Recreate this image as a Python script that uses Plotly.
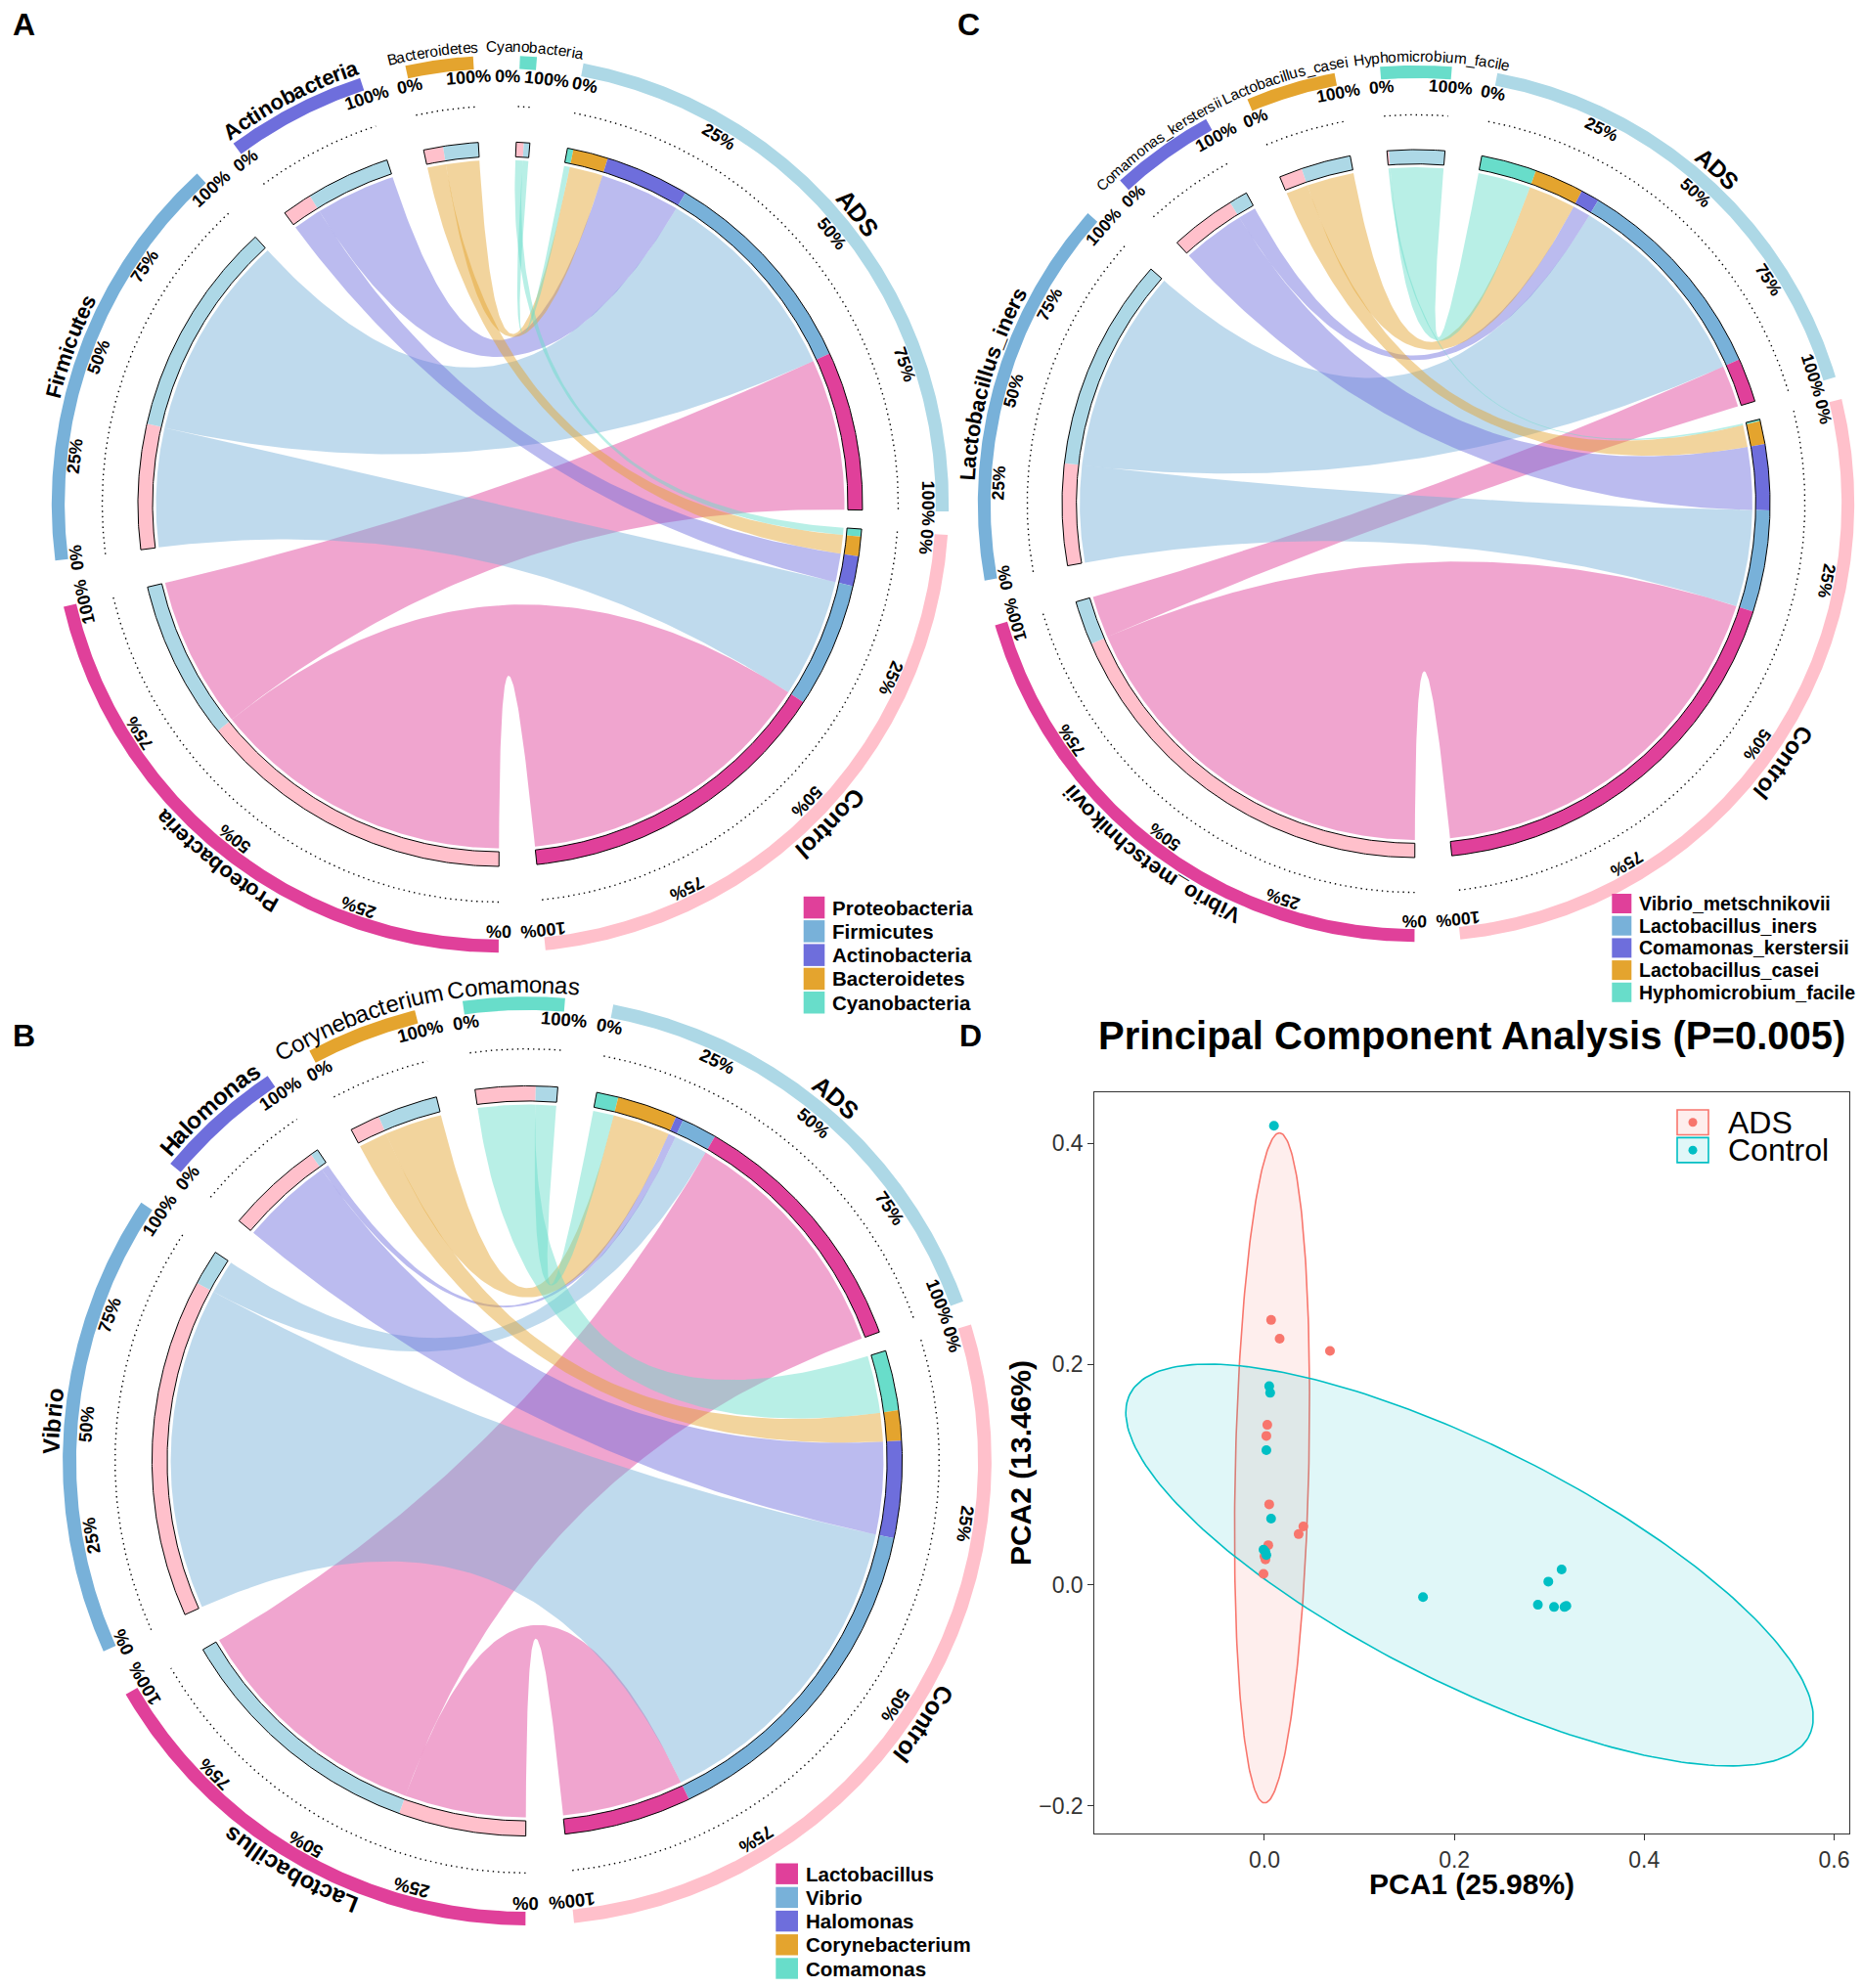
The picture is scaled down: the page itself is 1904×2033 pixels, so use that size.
import numpy as np
import plotly.graph_objects as go

FIG_W, FIG_H = 1904, 2033
FONT = "Liberation Sans, Arial, Helvetica, sans-serif"

# ----------------------------- data -----------------------------
groups = ["ADS", "Control"]

# Panel A (phylum)
taxa_A = ["Proteobacteria", "Firmicutes", "Actinobacteria", "Bacteroidetes", "Cyanobacteria"]
ads_A = [31.8, 43.2, 16.8, 7.0, 1.2]
control_A = [63.6, 25.0, 6.0, 3.9, 1.5]

# Panel B (genus)
taxa_B = ["Lactobacillus", "Vibrio", "Halomonas", "Corynebacterium", "Comamonas"]
ads_B = [24.8, 3.4, 0.75, 5.8, 2.1]
control_B = [12.3, 32.7, 9.35, 2.9, 5.8]

# Panel C (species)
taxa_C = ["Vibrio_metschnikovii", "Lactobacillus_iners", "Comamonas_kerstersii",
          "Lactobacillus_casei", "Hyphomicrobium_facile"]
ads_C = [4.5, 21.7, 1.9, 5.05, 5.65]
control_C = [41.25, 10.35, 6.7, 2.35, 0.2]

ticks_full = [0, 25, 50, 75, 100]
ticks_short = [0, 100]

# Panel D (PCA)
pca_title = "Principal Component Analysis (P=0.005)"
pc1_label = "PCA1 (25.98%)"
pc2_label = "PCA2 (13.46%)"
ads_pc1 = [0.007, 0.016, 0.069, 0.003, 0.002, 0.005, 0.041, 0.036, 0.004, 0.001, -0.001, 0.000]
ads_pc2 = [0.240, 0.223, 0.212, 0.145, 0.135, 0.073, 0.053, 0.046, 0.036, 0.023, 0.010, 0.026]
ctrl_pc1 = [0.010, 0.005, 0.006, 0.002, 0.007, -0.001, 0.002, 0.001, 0.167, 0.288, 0.299, 0.313, 0.305, 0.316, 0.318]
ctrl_pc2 = [0.416, 0.180, 0.174, 0.122, 0.060, 0.032, 0.027, 0.030, -0.011, -0.018, 0.003, 0.014, -0.020, -0.020, -0.019]
# ellipse: centre x, centre y, semi-major, semi-minor, angle (deg)
ads_ellipse = [0.008, 0.106, 0.3036, 0.0387, 88.5]
ctrl_ellipse = [0.216, 0.018, 0.390, 0.110, -22.8]
x_ticks = [0.0, 0.2, 0.4, 0.6]
y_ticks = [-0.2, 0.0, 0.2, 0.4]

# ----------------------------- styles -----------------------------
group_colors = ["#ADD8E6", "#FFC0CB"]
taxon_colors = ["#E0409A", "#78B1D9", "#6E6EDC", "#E4A42E", "#68DDCA"]
LINK_ALPHA = 0.47
ADS_COL, CTRL_COL = "#F8766D", "#00BFC4"

W_REG = {' ': 278, '%': 889, '_': 556, '.': 278, '(': 333, ')': 333, '=': 584,
         'A': 667, 'B': 667, 'C': 722, 'D': 722, 'E': 667, 'F': 611, 'G': 778, 'H': 722, 'I': 278,
         'J': 500, 'K': 667, 'L': 556, 'M': 833, 'N': 722, 'O': 778, 'P': 667, 'Q': 778, 'R': 722,
         'S': 667, 'T': 611, 'U': 722, 'V': 667, 'W': 944, 'X': 667, 'Y': 667, 'Z': 611,
         'a': 556, 'b': 556, 'c': 500, 'd': 556, 'e': 556, 'f': 278, 'g': 556, 'h': 556, 'i': 222,
         'j': 222, 'k': 500, 'l': 222, 'm': 833, 'n': 556, 'o': 556, 'p': 556, 'q': 556, 'r': 333,
         's': 500, 't': 278, 'u': 556, 'v': 500, 'w': 722, 'x': 500, 'y': 500, 'z': 500}
W_BOLD = {' ': 278, '%': 889, '_': 556,
          'A': 722, 'B': 722, 'C': 722, 'D': 722, 'E': 667, 'F': 611, 'G': 778, 'H': 722, 'I': 278,
          'J': 556, 'K': 722, 'L': 611, 'M': 833, 'N': 722, 'O': 778, 'P': 667, 'Q': 778, 'R': 722,
          'S': 667, 'T': 611, 'U': 722, 'V': 667, 'W': 944, 'X': 667, 'Y': 667, 'Z': 611,
          'a': 556, 'b': 611, 'c': 556, 'd': 611, 'e': 556, 'f': 333, 'g': 611, 'h': 611, 'i': 278,
          'j': 278, 'k': 556, 'l': 278, 'm': 889, 'n': 611, 'o': 611, 'p': 611, 'q': 611, 'r': 389,
          's': 556, 't': 333, 'u': 611, 'v': 556, 'w': 778, 'x': 556, 'y': 556, 'z': 500}

traces, shapes, annots = [], [], []


def rgba(hexc, a):
    h = hexc.lstrip('#')
    return "rgba(%d,%d,%d,%.3f)" % (int(h[0:2], 16), int(h[2:4], 16), int(h[4:6], 16), a)


def text_w(s, fs, bold):
    tbl = W_BOLD if bold else W_REG
    return sum(tbl.get(c, 556) for c in s) * fs / 1000.0


def polar(cx, cy, r, phi):
    p = np.radians(phi)
    return cx + r * np.cos(p), cy + r * np.sin(p)


def arc(cx, cy, r, a0, a1):
    n = max(6, int(abs(a1 - a0) * 3) + 2)
    return polar(cx, cy, r, np.linspace(a0, a1, n))


def annulus(cx, cy, r0, r1, a0, a1):
    xo, yo = arc(cx, cy, r1, a0, a1)
    xi, yi = arc(cx, cy, r0, a1, a0)
    return np.r_[xo, xi, xo[:1]], np.r_[yo, yi, yo[:1]]


def bez(cx, cy, p0, p2, n=90):
    t = np.linspace(0, 1, n)
    x = (1 - t) ** 2 * p0[0] + 2 * t * (1 - t) * cx + t ** 2 * p2[0]
    y = (1 - t) ** 2 * p0[1] + 2 * t * (1 - t) * cy + t ** 2 * p2[1]
    return x, y


def ribbon(cx, cy, r, a0, a1, b0, b1):
    x1, y1 = arc(cx, cy, r, a0, a1)
    x2, y2 = bez(cx, cy, polar(cx, cy, r, a1), polar(cx, cy, r, b0))
    x3, y3 = arc(cx, cy, r, b0, b1)
    x4, y4 = bez(cx, cy, polar(cx, cy, r, b1), polar(cx, cy, r, a0))
    return np.r_[x1, x2, x3, x4], np.r_[y1, y2, y3, y4]


def add_fill(x, y, color):
    traces.append(go.Scatter(x=x, y=y, mode='lines', fill='toself', fillcolor=color,
                             line=dict(width=0, color='rgba(0,0,0,0)'), hoverinfo='skip',
                             showlegend=False, xaxis='x', yaxis='y'))


def add_line(x, y, color='black', width=1.0, dash='solid'):
    traces.append(go.Scatter(x=x, y=y, mode='lines', line=dict(width=width, color=color, dash=dash),
                             hoverinfo='skip', showlegend=False, xaxis='x', yaxis='y'))


def tangle(phi):
    a = (phi + 90.0) % 360.0
    if a > 180:
        a -= 360
    return a


def bend_text(s, phi_mid, r, cx, cy, fs, bold):
    tbl = W_BOLD if bold else W_REG
    ws = [tbl.get(c, 556) * fs / 1000.0 for c in s]
    pos = -sum(ws) / 2.0
    for c, w in zip(s, ws):
        mid = pos + w / 2.0
        pos += w
        phi = phi_mid + np.degrees(mid / r)
        x, y = polar(cx, cy, r, phi)
        annots.append(dict(xref='x', yref='y', x=float(x), y=float(y), text=c, showarrow=False,
                           xanchor='center', yanchor='middle', textangle=tangle(phi),
                           font=dict(family=FONT, size=fs, color='black',
                                     weight='bold' if bold else 'normal')))


def chord(taxa, ads, ctrl, cx, cy, R, name_style, tick_fs, start=280.7, gap_pair=3.0, gap=6.0):
    vals = [ads, ctrl]
    names = groups + taxa
    colors = group_colors + taxon_colors
    sizes = [sum(ads), sum(ctrl)] + [a + c for a, c in zip(ads, ctrl)]
    gaps = [gap_pair] + [gap] * (len(sizes) - 1)
    dpu = (360.0 - sum(gaps)) / sum(sizes)
    st, en = [], []
    cur = start
    for s, g in zip(sizes, gaps):
        st.append(cur)
        cur += s * dpu
        en.append(cur)
        cur += g
    n = len(taxa)
    gseg, tseg = {}, {}
    for k in range(2):
        cur = st[k]
        for j in reversed(range(n)):
            w = vals[k][j] * dpu
            gseg[(k, j)] = (cur, cur + w)
            cur += w
    for j in range(n):
        cur = st[2 + j]
        for k in reversed(range(2)):
            w = vals[k][j] * dpu
            tseg[(k, j)] = (cur, cur + w)
            cur += w
    # links
    for k in range(2):
        for j in range(n):
            a0, a1 = gseg[(k, j)]
            b0, b1 = tseg[(k, j)]
            x, y = ribbon(cx, cy, 0.95 * R, a0, a1, b0, b1)
            add_fill(x, y, rgba(taxon_colors[j], LINK_ALPHA))
    # inner bars
    for (k, j), (a0, a1) in gseg.items():
        add_fill(*annulus(cx, cy, 0.9595 * R, R, a0, a1), taxon_colors[j])
    for (k, j), (a0, a1) in tseg.items():
        add_fill(*annulus(cx, cy, 0.9595 * R, R, a0, a1), group_colors[k])
    r_tick = 1.18 * R
    labs = []
    for i in range(len(sizes)):
        x, y = annulus(cx, cy, 0.9595 * R, R, st[i], en[i])
        add_line(x, y, 'black', 1.0)
        add_fill(*annulus(cx, cy, 1.202 * R, 1.238 * R, st[i], en[i]), colors[i])
        x, y = arc(cx, cy, 1.0985 * R, st[i], en[i])
        add_line(x, y, 'black', 1.4, '1.4px,4px')
        ticks = ticks_full if (en[i] - st[i]) > 30 else ticks_short
        for p in ticks:
            txt = "%d%%" % p
            hw = np.degrees(0.5 * text_w(txt, tick_fs, True) / r_tick)
            labs.append([st[i] + (en[i] - st[i]) * p / 100.0, hw, txt])
        fs, bold, off = name_style[names[i]]
        bend_text(names[i], (st[i] + en[i]) / 2.0 + off, 1.25 * R + 0.33 * fs, cx, cy, fs, bold)
    # keep neighbouring percentage labels from overlapping (circular 1-D repel)
    N = len(labs)
    for _ in range(80):
        for i in range(N):
            a, b = labs[i], labs[(i + 1) % N]
            pb = b[0] + (360.0 if i == N - 1 else 0.0)
            room = (pb - b[1]) - (a[0] + a[1])
            if room < 0.5:
                d = (0.5 - room) / 2.0
                a[0] -= d
                b[0] += d
    for phi, hw, txt in labs:
        tx, ty = polar(cx, cy, r_tick, phi)
        annots.append(dict(xref='x', yref='y', x=float(tx), y=float(ty), text=txt,
                           showarrow=False, xanchor='center', yanchor='middle',
                           textangle=tangle(phi),
                           font=dict(family=FONT, size=tick_fs, color='black', weight='bold')))


def chord_legend(names, x0, y0, sw, sh, step, fs):
    for i, (nm, c) in enumerate(zip(names, taxon_colors)):
        y = y0 + i * step
        shapes.append(dict(type='rect', xref='x', yref='y', x0=x0, x1=x0 + sw, y0=y, y1=y + sh,
                           fillcolor=c, line=dict(width=0), layer='above'))
        annots.append(dict(xref='x', yref='y', x=x0 + sw + 6, y=y + sh / 2, text=nm, showarrow=False,
                           xanchor='left', yanchor='middle',
                           font=dict(family=FONT, size=fs, color='black', weight='bold')))


# (font size, bold, angular offset of the label centre in degrees)
style_A = {"ADS": (25, True, 0), "Control": (25, True, 0), "Proteobacteria": (22, True, 0),
           "Firmicutes": (22, True, 0), "Actinobacteria": (22, True, 0),
           "Bacteroidetes": (15.5, False, -0.7), "Cyanobacteria": (15.5, False, 0.7)}
style_B = {"ADS": (25, True, 0), "Control": (25, True, 0), "Lactobacillus": (24, True, 0),
           "Vibrio": (24, True, 0), "Halomonas": (24, True, 0),
           "Corynebacterium": (24, False, 0), "Comamonas": (24, False, 0)}
style_C = {"ADS": (24, True, 0), "Control": (24, True, 0), "Vibrio_metschnikovii": (22, True, 0),
           "Lactobacillus_iners": (22, True, 0), "Comamonas_kerstersii": (15, False, 0),
           "Lactobacillus_casei": (15.5, False, -0.5), "Hyphomicrobium_facile": (15.5, False, 2.0)}

chord(taxa_A, ads_A, control_A, 511.5, 515.5, 370.5, style_A, 18)
chord(taxa_B, ads_B, control_B, 539.0, 1494.0, 383.6, style_B, 18.5)
chord(taxa_C, ads_C, control_C, 1448.0, 515.0, 362.0, style_C, 17.5)

chord_legend(taxa_A, 821.7, 916.8, 21.6, 22.5, 24.3, 20.5)
chord_legend(taxa_B, 793.3, 1905.5, 22.7, 21.4, 24.2, 20.5)
chord_legend(taxa_C, 1648.3, 914.0, 20.0, 20.0, 22.7, 19.5)

for lab, (lx, ly) in zip(["A", "B", "C", "D"], [(24, 25), (24, 1059), (990, 25), (992, 1059)]):
    annots.append(dict(xref='x', yref='y', x=lx, y=ly, text=lab, showarrow=False,
                       xanchor='center', yanchor='middle',
                       font=dict(family=FONT, size=32, color='black', weight='bold')))

# ----------------------------- PCA panel -----------------------------
def ellipse_xy(p, n=240):
    ex, ey, a, b, ang = p
    t = np.linspace(0, 2 * np.pi, n)
    th = np.radians(ang)
    x = ex + a * np.cos(t) * np.cos(th) - b * np.sin(t) * np.sin(th)
    y = ey + a * np.cos(t) * np.sin(th) + b * np.sin(t) * np.cos(th)
    return x, y

for p, col in [(ads_ellipse, ADS_COL), (ctrl_ellipse, CTRL_COL)]:
    ex, ey = ellipse_xy(p)
    traces.append(go.Scatter(x=ex, y=ey, mode='lines', fill='toself', fillcolor=rgba(col, 0.12),
                             line=dict(color=col, width=1.6), hoverinfo='skip', showlegend=False,
                             xaxis='x2', yaxis='y2'))
for xs, ys, col in [(ads_pc1, ads_pc2, ADS_COL), (ctrl_pc1, ctrl_pc2, CTRL_COL)]:
    traces.append(go.Scatter(x=xs, y=ys, mode='markers', marker=dict(size=10, color=col),
                             hoverinfo='skip', showlegend=False, xaxis='x2', yaxis='y2'))

PX0, PX1, PY0, PY1 = 1119.4, 1891.0, 1117.3, 1874.8
annots.append(dict(xref='x', yref='y', x=(PX0 + PX1) / 2, y=1059, text=pca_title, showarrow=False,
                   xanchor='center', yanchor='middle',
                   font=dict(family=FONT, size=40, color='black', weight='bold')))
annots.append(dict(xref='x', yref='y', x=(PX0 + PX1) / 2, y=1926, text=pc1_label, showarrow=False,
                   xanchor='center', yanchor='middle',
                   font=dict(family=FONT, size=30, color='black', weight='bold')))
annots.append(dict(xref='x', yref='y', x=1043, y=(PY0 + PY1) / 2, text=pc2_label, showarrow=False,
                   xanchor='center', yanchor='middle', textangle=-90,
                   font=dict(family=FONT, size=30, color='black', weight='bold')))

# PCA legend (inside, top right)
for i, (nm, col) in enumerate(zip(groups, [ADS_COL, CTRL_COL])):
    y0 = 1135.0 + i * 28.4
    shapes.append(dict(type='rect', xref='x', yref='y', x0=1715, x1=1747, y0=y0, y1=y0 + 25.5,
                       fillcolor=rgba(col, 0.12), line=dict(color=col, width=1.6), layer='above'))
    traces.append(go.Scatter(x=[1731], y=[y0 + 12.75], mode='markers', marker=dict(size=9, color=col),
                             hoverinfo='skip', showlegend=False, xaxis='x', yaxis='y'))
    annots.append(dict(xref='x', yref='y', x=1765, y=y0 + 12.75, text=nm, showarrow=False,
                       xanchor='left', yanchor='middle',
                       font=dict(family=FONT, size=32, color='black')))

fig = go.Figure(traces)
fig.update_layout(
    width=FIG_W, height=FIG_H, margin=dict(l=0, r=0, t=0, b=0),
    paper_bgcolor='white', plot_bgcolor='rgba(0,0,0,0)', showlegend=False, hovermode=False,
    xaxis=dict(domain=[0, 1], range=[0, FIG_W], visible=False, fixedrange=True, anchor='y'),
    yaxis=dict(domain=[0, 1], range=[FIG_H, 0], visible=False, fixedrange=True, anchor='x'),
    xaxis2=dict(domain=[PX0 / FIG_W, PX1 / FIG_W], range=[-0.1788, 0.616], anchor='y2',
                showline=True, mirror=True, linecolor='#333333', linewidth=1.3,
                ticks='outside', ticklen=6, tickwidth=1.2, tickcolor='#333333',
                tickvals=x_ticks, ticktext=["%.1f" % v for v in x_ticks],
                tickfont=dict(family=FONT, size=23, color='#333333'),
                showgrid=False, zeroline=False, fixedrange=True),
    yaxis2=dict(domain=[1 - PY1 / FIG_H, 1 - PY0 / FIG_H], range=[-0.225, 0.446], anchor='x2',
                showline=True, mirror=True, linecolor='#333333', linewidth=1.3,
                ticks='outside', ticklen=6, tickwidth=1.2, tickcolor='#333333',
                tickvals=y_ticks, ticktext=[("%.1f" % v).replace('-', '\u2212') for v in y_ticks],
                tickfont=dict(family=FONT, size=23, color='#333333'),
                showgrid=False, zeroline=False, fixedrange=True),
    shapes=shapes, annotations=annots,
)
fig.write_html("out.html", config={"displayModeBar": False},
               post_script="document.body.style.margin='0px';"
                           "document.documentElement.style.overflow='hidden';"
                           "document.body.style.overflow='hidden';")
